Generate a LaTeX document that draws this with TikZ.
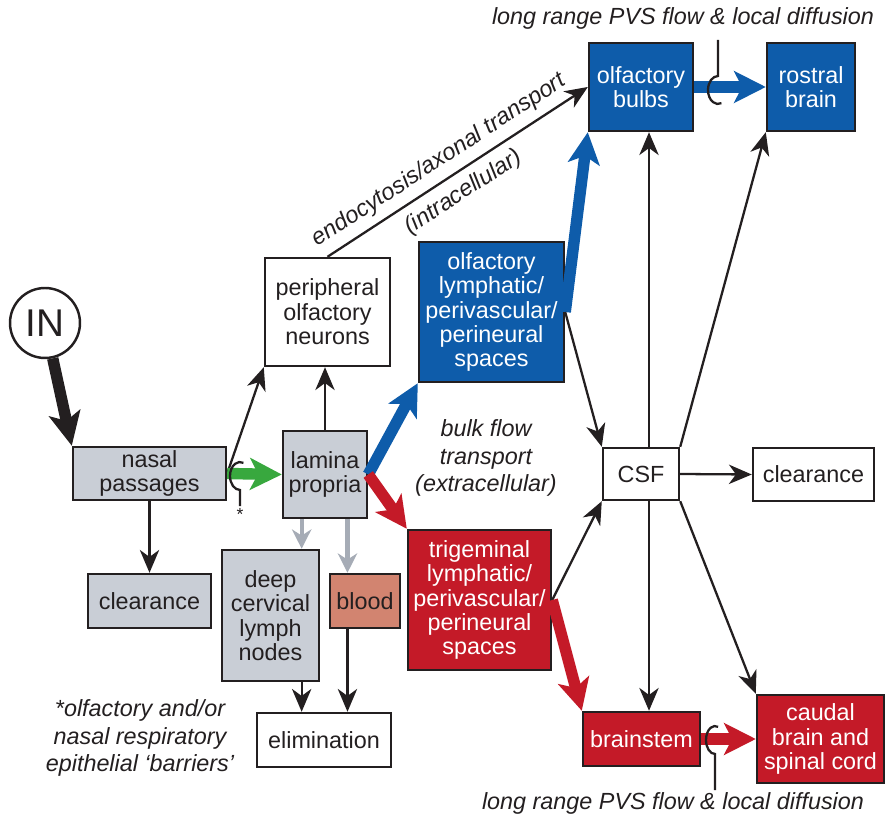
\documentclass[tikz,border=0pt]{standalone}
\usepackage[rgb]{xcolor}
\usepackage{tikz}
\usepackage{fontspec}
\setmainfont{Liberation Sans}
\usetikzlibrary{arrows.meta,calc}

\definecolor{olfblue}{RGB}{14,92,170}
\definecolor{trigred}{RGB}{196,26,40}
\definecolor{boxgray}{RGB}{201,206,214}
\definecolor{bloodred}{RGB}{210,132,112}
\definecolor{nasalgreen}{RGB}{56,168,62}
\definecolor{flowgray}{RGB}{166,172,182}
\definecolor{ink}{RGB}{35,31,32}

\begin{document}
\begin{tikzpicture}[x=0.02cm, y=-0.02cm,
  font=\fontsize{13.3}{13.9}\selectfont,
  box/.style={draw=ink, line width=1.4pt, align=center, inner sep=0pt, text=ink},
  graybox/.style={box, fill=boxgray},
  bluebox/.style={box, fill=olfblue, text=white},
  redbox/.style={box, fill=trigred, text=white},
  conn/.style={draw=ink, line width=1.3pt, -{Stealth[length=13pt,width=11pt,inset=4pt]}},
  grayconn/.style={draw=flowgray, line width=2.4pt, -{Stealth[length=11pt,width=11pt,inset=3.5pt]}},
  fat/.style={line width=6.5pt, -{Stealth[length=18pt,width=18pt,inset=4.5pt]}},
  note/.style={font=\fontsize{13.3}{15.5}\selectfont\itshape, text=ink, align=center},
  barrier/.style={draw=ink, line width=1.3pt}
]
\useasboundingbox (0,0) rectangle (886,817);

% entry and nasal side
\node[circle, draw=ink, line width=1.4pt, minimum size=1.4cm, inner sep=0pt,
      font=\fontsize{22}{22}\selectfont, text=ink] (in) at (45,323) {IN};
\node[graybox, minimum width=3.06cm, minimum height=1.06cm] (nasal) at (149.5,473.5) {nasal\\passages};
\node[graybox, minimum width=2.46cm, minimum height=1.08cm] (clrL) at (149.5,601) {clearance};
\node[graybox, minimum width=1.68cm, minimum height=1.74cm] (lamina) at (325,474.5) {lamina\\propria};
\node[box, minimum width=2.5cm, minimum height=2.16cm] (periph) at (327.5,312) {peripheral\\olfactory\\neurons};
\node[graybox, minimum width=1.94cm, minimum height=2.62cm] (deep) at (270.5,615.5) {deep\\cervical\\lymph\\nodes};
\node[box, fill=bloodred, minimum width=1.4cm, minimum height=1.08cm] (blood) at (365,601) {blood};
\node[box, minimum width=2.68cm, minimum height=1.08cm] (elim) at (324,740) {elimination};

% olfactory and trigeminal pathways
\node[bluebox, minimum width=2.9cm, minimum height=2.8cm] (spaces) at (491.5,312)
  {olfactory\\lymphatic/\\perivascular/\\perineural\\spaces};
\node[redbox, minimum width=2.86cm, minimum height=2.8cm] (trig) at (479.5,600)
  {trigeminal\\lymphatic/\\perivascular/\\perineural\\spaces};
\node[bluebox, minimum width=2.08cm, minimum height=1.76cm] (bulbs) at (641,87) {olfactory\\bulbs};
\node[bluebox, minimum width=1.76cm, minimum height=1.76cm] (rostral) at (811,87) {rostral\\brain};
\node[box, minimum width=1.52cm, minimum height=1.04cm] (csf) at (641,474) {CSF};
\node[box, minimum width=2.42cm, minimum height=1.06cm] (clrR) at (813.5,474.5) {clearance};
\node[redbox, minimum width=2.34cm, minimum height=1.08cm] (brainstem) at (641.5,739) {brainstem};
\node[redbox, minimum width=2.54cm, minimum height=1.76cm] (caudal) at (820.5,739)
  {caudal\\brain and\\spinal cord};

% notes
\node[note] (pvstop) at (683,18) {long range PVS flow \& local diffusion};
\node[note] (pvsbot) at (673,803) {long range PVS flow \& local diffusion};
\node[note] (bulk) at (486,458) {bulk flow\\transport\\(extracellular)};
\node[note] (epith) at (140,738) {*olfactory and/or\\nasal respiratory\\epithelial ‘barriers’};

% connectors
\draw[fat, line width=6.5pt, ink, -{Stealth[length=19pt,width=18pt,inset=4.5pt]}] (in) -- (nasal.north west);
\draw[conn] (nasal.east) -- (periph.south west);
\draw[fat, nasalgreen] (nasal.east) -- (lamina.west);
\draw[conn] (nasal.south) -- (clrL.north);
\draw[conn] (lamina.north) -- (lamina.north |- periph.south);

\coordinate (g1) at ($(lamina.south west)!0.23!(lamina.south east)$);
\coordinate (g2) at ($(lamina.south west)!0.76!(lamina.south east)$);
\draw[grayconn] (g1) -- (g1 |- deep.north);
\draw[grayconn] (g2) -- (g2 |- blood.north);
\draw[conn] (deep.south -| g1) -- (g1 |- elim.north);
\draw[conn] (blood.south -| g2) -- (g2 |- elim.north);

\draw[fat, olfblue] (lamina.east) -- (spaces.south west);
\draw[fat, trigred] (lamina.east) -- (trig.north west);
\draw[conn] (periph.north) -- (bulbs.west)
  node[pos=0.47, above=1pt, sloped, note] (endo) {endocytosis/axonal transport}
  node[pos=0.48, below=1.5pt, sloped, note] (intra) {(intracellular)};
\draw[fat, olfblue] (spaces.east) -- (bulbs.south west);
\draw[conn] (spaces.east) -- (csf.north west);
\draw[conn] (trig.east) -- (csf.south west);
\draw[fat, trigred] (trig.east) -- (brainstem.north west);

\coordinate (cv) at ($(csf.north)+(8,0)$);
\draw[conn] (cv) -- (cv |- bulbs.south);
\draw[conn] (csf.south -| cv) -- (cv |- brainstem.north);
\draw[conn] (csf.north east) -- (rostral.south west);
\draw[conn] (csf.east) -- (clrR.west);
\draw[conn] (csf.south east) -- (caudal.north west);

\draw[fat, olfblue] (bulbs.east) -- (rostral.west);
\draw[fat, trigred] (brainstem.east) -- (caudal.west |- brainstem.east);

% epithelial and PVS barriers
\draw[barrier] (240,506) -- (240,490) arc[start angle=270, end angle=70, x radius=0.2cm, y radius=0.28cm];
\node[text=ink, font=\fontsize{10}{10}\selectfont] (star) at (240,514) {*};
\draw[barrier] (718,40) -- (718,76) arc[start angle=90, end angle=290, x radius=0.2cm, y radius=0.28cm];
\draw[barrier] (715,790) -- (715,754) arc[start angle=270, end angle=70, x radius=0.18cm, y radius=0.28cm];

\end{tikzpicture}
\end{document}
